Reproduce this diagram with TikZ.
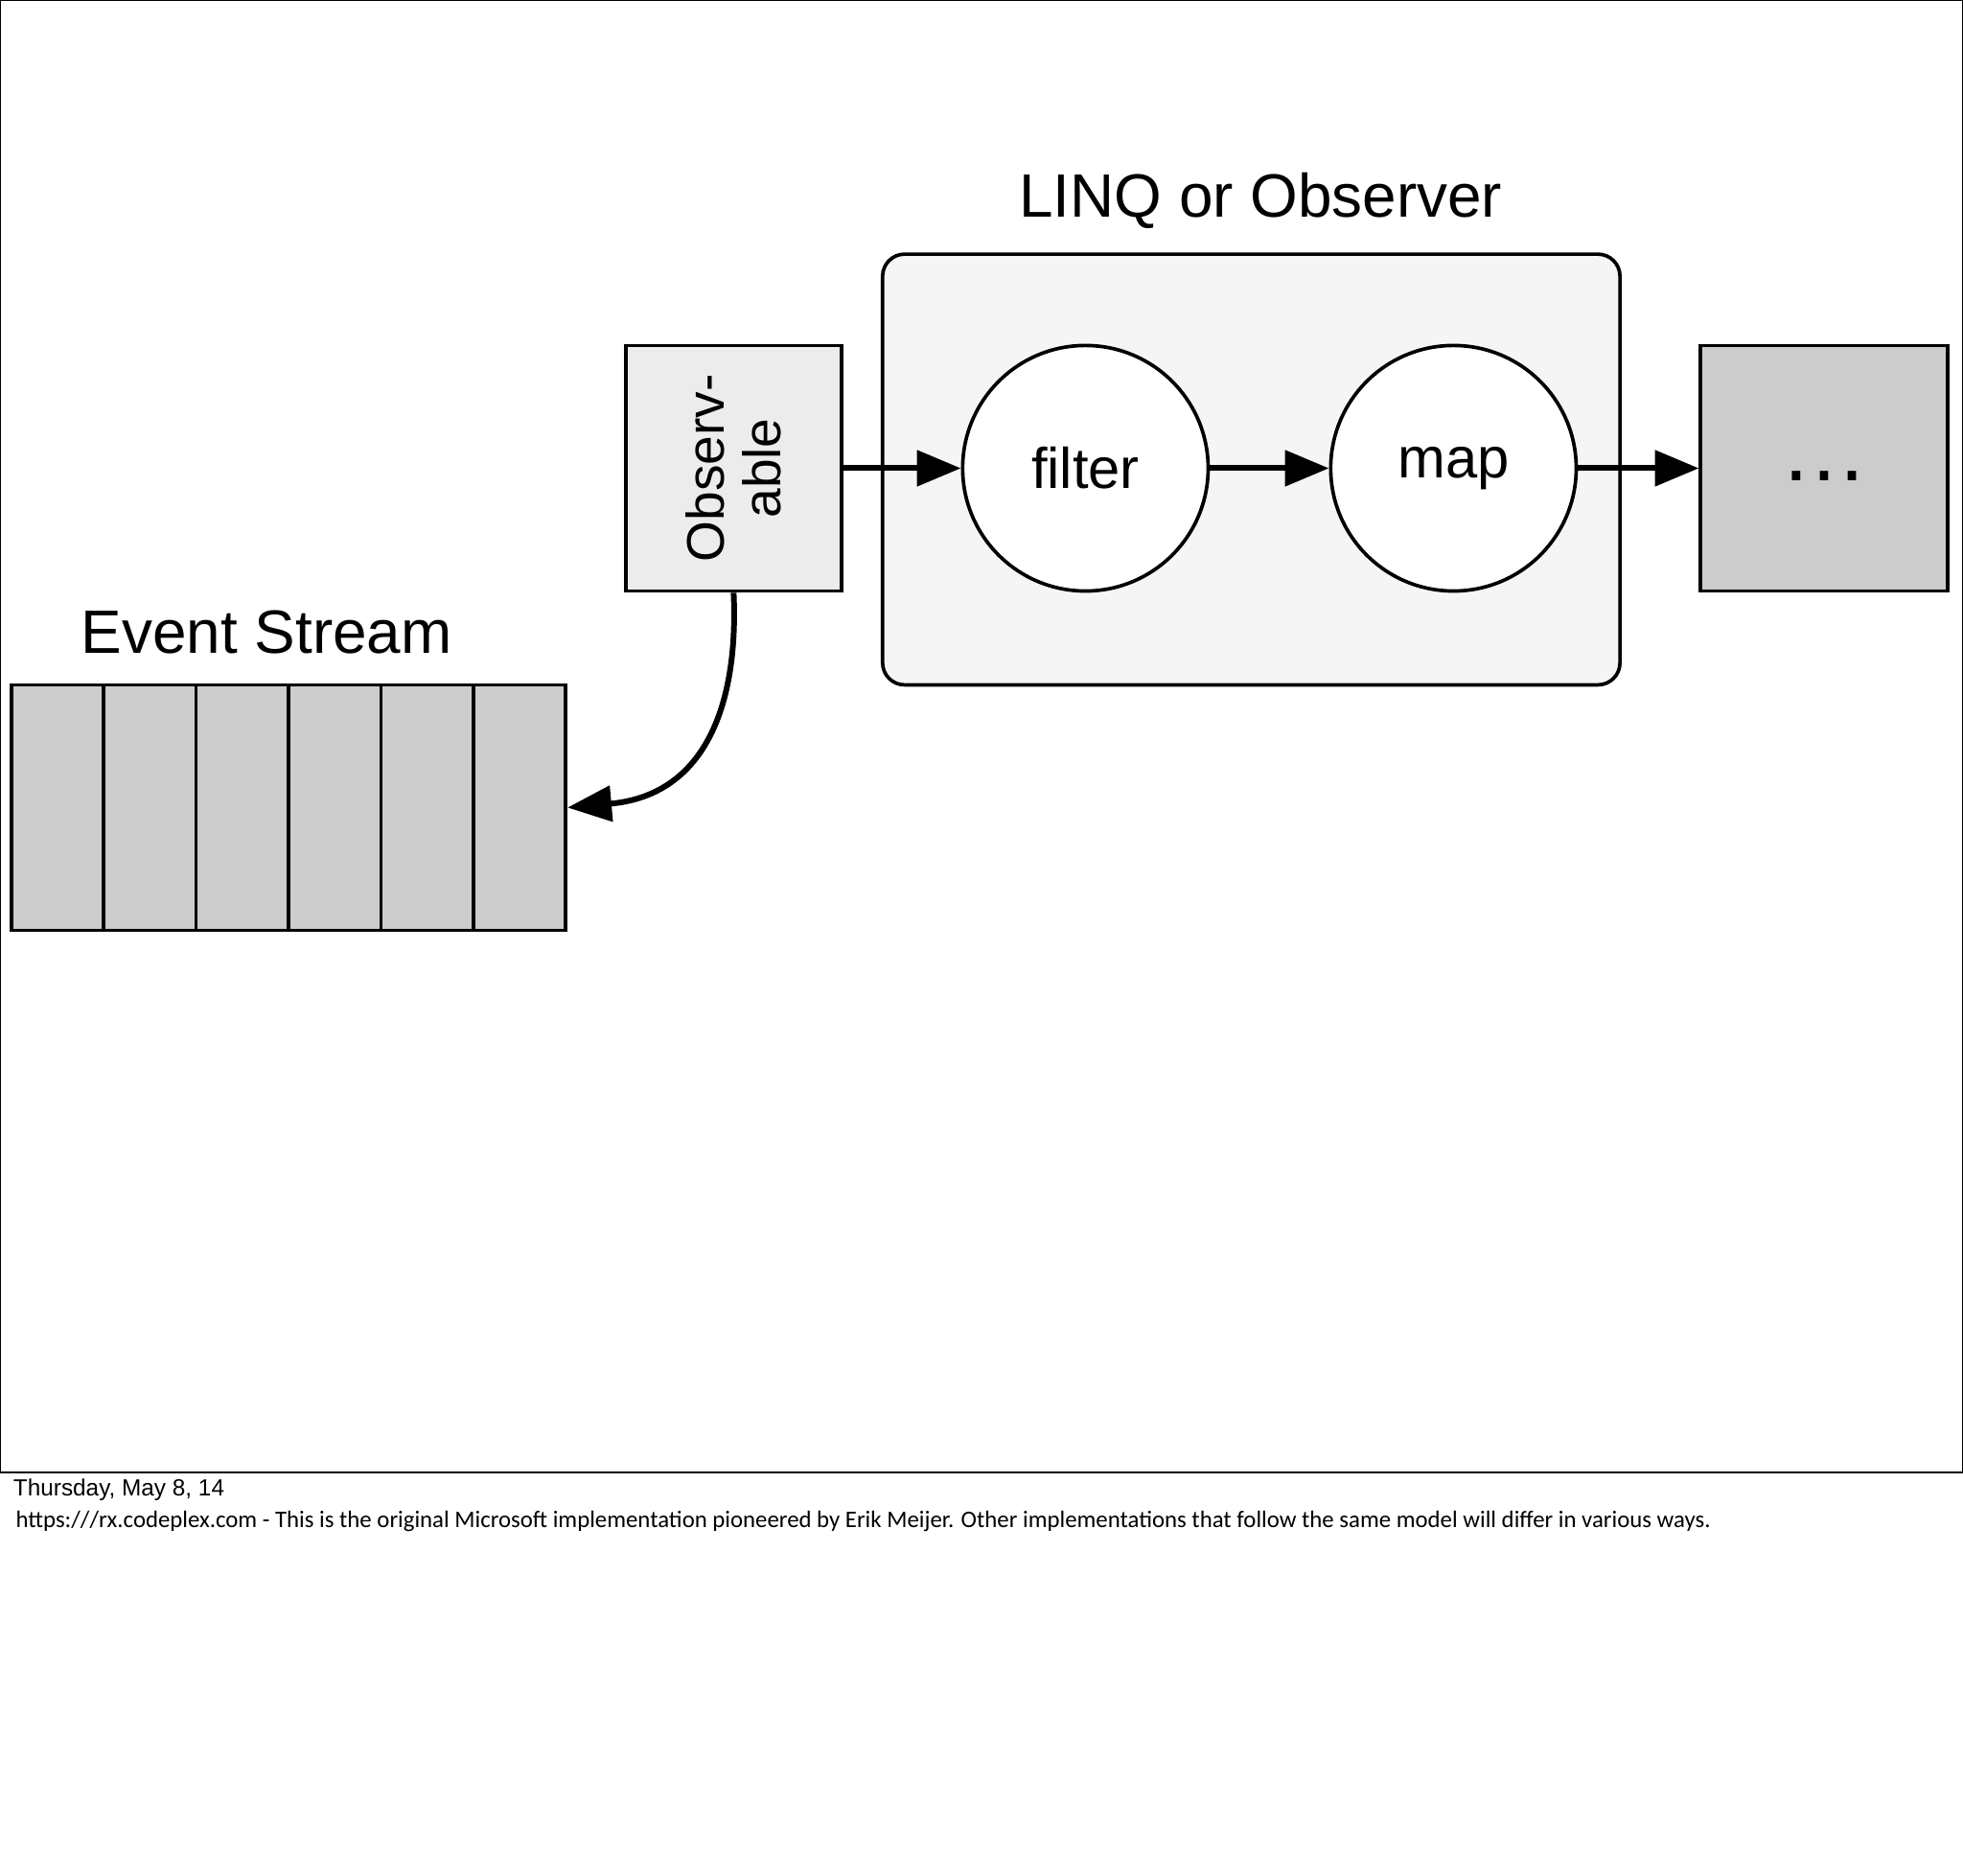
\documentclass[tikz,border=0pt]{standalone}
\usepackage{fontspec}
\setmainfont{Liberation Sans}
\newfontfamily\notefont{Carlito}
\usetikzlibrary{arrows.meta}
\begin{document}
\begin{tikzpicture}[x=0.01cm,y=-0.01cm,
  box/.style={draw,line width=0.8pt},
  flow/.style={line width=1.3pt,-{Triangle[length=10pt,width=8pt]}},
  big/.style={font=\fontsize{13.9}{16}\selectfont},
  mid/.style={font=\fontsize{13}{14}\selectfont}]
\useasboundingbox (0,0) rectangle (1568,1498);
\draw[line width=0.4pt] (0,0) rectangle (1568,1176);
\node[big] (title) at (1007,160) {LINQ or Observer};
\draw[box,fill=gray!8,rounded corners=5pt] (705,203) rectangle (1294,547);
\node[box,fill=gray!15,minimum width=1.72cm,minimum height=1.96cm] (obs) at (586,374) {};
\node[rotate=90,align=center,font=\fontsize{12}{13}\selectfont] at (obs) {Observ-\\able};
\node[box,circle,fill=white,minimum size=1.96cm,mid] (filter) at (867,374) {filter};
\node[box,circle,fill=white,minimum size=1.96cm,mid] (map) at (1161,374) {map};
\node[box,fill=gray!40,minimum width=1.97cm,minimum height=1.96cm] (more) at (1457,374) {};
\node[font=\fontsize{20}{20}\selectfont] at (1457,380) {\dots};
\foreach \i in {0,...,5}
  \node[box,fill=gray!40,minimum width=0.738cm,minimum height=1.96cm,inner sep=0pt] (e\i) at (46+73.8*\i,645) {};
\node[big] (es) at (213,505) {Event Stream};
\draw[flow] (obs.east) -- (filter.west);
\draw[flow] (filter.east) -- (map.west);
\draw[flow] (map.east) -- (more.west);
\draw[flow] (obs.south) .. controls (590,560) and (565,635) .. (e5.east);
\node[anchor=west,font=\fontsize{5.3}{7}\selectfont,inner sep=0pt] (date) at (10,1190) {Thursday, May 8, 14};
\node[anchor=west,font=\notefont\fontsize{5.4}{7}\selectfont,inner sep=0pt] (note) at (12,1215) {https:///rx.codeplex.com - This is the original Microsoft implementation pioneered by Erik Meijer. Other implementations that follow the same model will differ in various ways.};
\end{tikzpicture}
\end{document}
